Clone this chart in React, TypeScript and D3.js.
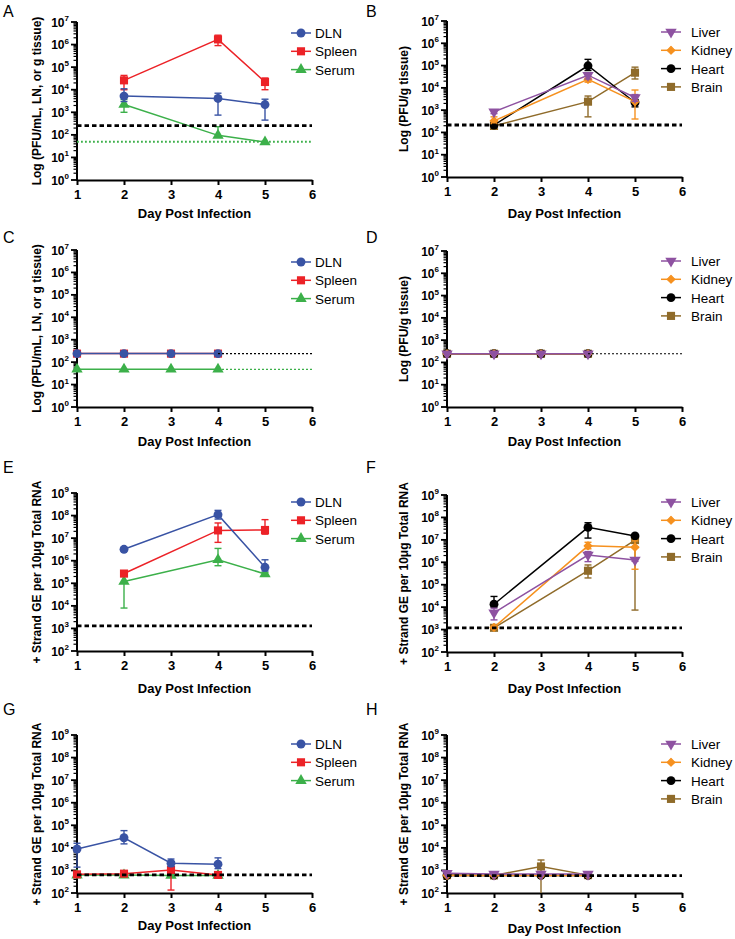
import { useEffect, useRef } from 'react';
import * as d3 from 'd3';

const W = 735, H = 939;
const FONT = '"Liberation Sans", Arial, Helvetica, sans-serif';

// each point: [day, mean, error low, error high]
type Pt = [number, number, number, number];

const DAYS = [1, 2, 3, 4, 5, 6];

// A: infectious virus, lymphoid tissues / serum (PFU)
const A_DLN: Pt[] = [[2, 5200, 3000, 11000], [4, 4100, 750, 7000], [5, 2200, 450, 3800]];
const A_SPLEEN: Pt[] = [[2, 26000, 10000, 43000], [4, 1.7e6, 9e5, 2.6e6], [5, 22000, 10000, 33000]];
const A_SERUM: Pt[] = [[2, 2200, 1000, 3700], [4, 95, 95, 230], [5, 48, 48, 48]];
const A_LOD = 255;
const A_SERUM_LOD = 50;

// B: infectious virus, organs
const B_LIVER: Pt[] = [[2, 850, 700, 1000], [4, 37000, 25000, 45000], [5, 3700, 2500, 5000]];
const B_KIDNEY: Pt[] = [[2, 330, 250, 500], [4, 24000, 18000, 32000], [5, 2400, 400, 8000]];
const B_HEART: Pt[] = [[2, 215, 215, 215], [4, 98000, 60000, 190000], [5, 2200, 1400, 3000]];
const B_BRAIN: Pt[] = [[2, 195, 195, 195], [4, 2400, 500, 4300], [5, 48000, 25000, 85000]];
const B_LOD = 215;

// C / D: all below detection
const C_DLN: Pt[] = [[1, 240, 240, 240], [2, 240, 240, 240], [3, 240, 240, 240], [4, 240, 240, 240]];
const C_SPLEEN: Pt[] = [[1, 240, 240, 240], [2, 240, 240, 240], [3, 240, 240, 240], [4, 240, 240, 240]];
const C_SERUM: Pt[] = [[1, 48, 48, 48], [2, 48, 48, 48], [3, 48, 48, 48], [4, 48, 48, 48]];
const C_LOD = 240;
const C_SERUM_LOD = 48;

const D_LIVER: Pt[] = [[1, 245, 245, 245], [2, 245, 245, 245], [3, 245, 245, 245], [4, 245, 245, 245]];
const D_KIDNEY: Pt[] = [[1, 245, 245, 245], [2, 245, 245, 245], [3, 245, 245, 245], [4, 245, 245, 245]];
const D_HEART: Pt[] = [[1, 245, 245, 245], [2, 245, 245, 245], [3, 245, 245, 245], [4, 245, 245, 245]];
const D_BRAIN: Pt[] = [[1, 245, 245, 245], [2, 245, 245, 245], [3, 245, 245, 245], [4, 245, 245, 245]];
const D_LOD = 245;

// E / F: + strand genome equivalents
const E_DLN: Pt[] = [[2, 3.2e6, 2.7e6, 3.8e6], [4, 1.1e8, 7e7, 1.7e8], [5, 5.1e5, 3.5e5, 1.1e6]];
const E_SPLEEN: Pt[] = [[2, 2.7e5, 2.3e5, 3.2e5], [4, 2.2e7, 6.5e6, 4.7e7], [5, 2.3e7, 1.5e7, 6.6e7]];
const E_SERUM: Pt[] = [[2, 1.2e5, 8e3, 2e5], [4, 1.1e6, 6e5, 3.5e6], [5, 2.6e5, 2.2e5, 3e5]];
const E_LOD = 1.3e3;

const F_LIVER: Pt[] = [[2, 5.6e3, 2.7e3, 9e3], [4, 2.1e6, 1.07e6, 3e6], [5, 1.26e6, 1.1e6, 1.4e6]];
const F_KIDNEY: Pt[] = [[2, 1.25e3, 1.1e3, 1.4e3], [4, 5.4e6, 4e6, 7.8e6], [5, 4.7e6, 4.9e5, 9e6]];
const F_HEART: Pt[] = [[2, 1.35e4, 1e4, 3e4], [4, 3.6e7, 1.2e7, 5.8e7], [5, 1.5e7, 1.3e7, 1.7e7]];
const F_BRAIN: Pt[] = [[2, 1.2e3, 1.1e3, 1.3e3], [4, 4.2e5, 2e5, 7.6e5], [5, 9.8e6, 7.4e3, 1.2e7]];
const F_LOD = 1.2e3;

// G / H
const G_DLN: Pt[] = [[1, 8.9e3, 1.4e3, 1.6e4], [2, 2.8e4, 1.5e4, 5.8e4], [3, 2.1e3, 1.5e3, 3.2e3], [4, 1.9e3, 1.2e3, 3.6e3]];
const G_SPLEEN: Pt[] = [[1, 670, 600, 750], [2, 720, 650, 800], [3, 1.05e3, 135, 1.5e3], [4, 630, 600, 680]];
const G_SERUM: Pt[] = [[1, 620, 620, 620], [2, 620, 620, 620], [3, 600, 600, 600], [4, 600, 600, 600]];
const G_LOD = 630;

const H_LIVER: Pt[] = [[1, 750, 700, 800], [2, 690, 650, 720], [3, 690, 650, 720], [4, 690, 650, 720]];
const H_KIDNEY: Pt[] = [[1, 600, 600, 600], [2, 600, 600, 600], [3, 600, 600, 600], [4, 600, 600, 600]];
const H_HEART: Pt[] = [[1, 600, 600, 600], [2, 600, 600, 600], [3, 600, 600, 600], [4, 600, 600, 600]];
const H_BRAIN: Pt[] = [[1, 620, 600, 650], [2, 600, 600, 600], [3, 1.5e3, 90, 2.9e3], [4, 620, 600, 650]];
const H_LOD = 590;

const C_BLUE = '#3953a4', C_RED = '#ec2227', C_GREEN = '#3cb04a';
const C_PURPLE = '#8e52a1', C_ORANGE = '#f6911f', C_BLACK = '#000000', C_BROWN = '#8f6b2a';

type Series = { name: string; color: string; shape: string; data: Pt[] };
type RefLine = { value: number; from: number; to: number; kind: 'dash' | 'dot' | 'fine'; color: string };
type Panel = {
  letter: string; col: number; top: number; bottom: number; yMin: number; yMax: number;
  letterY: number; legendTop: number; xTitleDy: number; yTitle: string;
  series: Series[]; refs: RefLine[];
};

const lymph = (dln: Pt[], spleen: Pt[], serum: Pt[]): Series[] => [
  { name: 'DLN', color: C_BLUE, shape: 'circle', data: dln },
  { name: 'Spleen', color: C_RED, shape: 'square', data: spleen },
  { name: 'Serum', color: C_GREEN, shape: 'triangle', data: serum },
];
const organs = (liver: Pt[], kidney: Pt[], heart: Pt[], brain: Pt[]): Series[] => [
  { name: 'Liver', color: C_PURPLE, shape: 'down', data: liver },
  { name: 'Kidney', color: C_ORANGE, shape: 'diamond', data: kidney },
  { name: 'Heart', color: C_BLACK, shape: 'circle', data: heart },
  { name: 'Brain', color: C_BROWN, shape: 'square', data: brain },
];

const T_PFU1 = 'Log (PFU/mL, LN, or g tissue)';
const T_PFU2 = 'Log (PFU/g tissue)';
const T_GE = '+ Strand GE per 10\u03bcg Total RNA';

const PANELS: Panel[] = [
  { letter: 'A', col: 0, top: 22, bottom: 180, yMin: 1, yMax: 1e7, letterY: 17, legendTop: 33, xTitleDy: 38, yTitle: T_PFU1,
    series: lymph(A_DLN, A_SPLEEN, A_SERUM),
    refs: [{ value: A_LOD, from: 1, to: 6, kind: 'dash', color: '#000' }, { value: A_SERUM_LOD, from: 1, to: 6, kind: 'dot', color: C_GREEN }] },
  { letter: 'B', col: 1, top: 21, bottom: 177, yMin: 1, yMax: 1e7, letterY: 17, legendTop: 32, xTitleDy: 41, yTitle: T_PFU2,
    series: organs(B_LIVER, B_KIDNEY, B_HEART, B_BRAIN),
    refs: [{ value: B_LOD, from: 1, to: 6, kind: 'dash', color: '#000' }] },
  { letter: 'C', col: 0, top: 250, bottom: 407, yMin: 1, yMax: 1e7, letterY: 243, legendTop: 262, xTitleDy: 39, yTitle: T_PFU1,
    series: lymph(C_DLN, C_SPLEEN, C_SERUM),
    refs: [{ value: C_LOD, from: 4, to: 6, kind: 'fine', color: '#000' }, { value: C_SERUM_LOD, from: 4, to: 6, kind: 'fine', color: C_GREEN }] },
  { letter: 'D', col: 1, top: 251, bottom: 407, yMin: 1, yMax: 1e7, letterY: 243, legendTop: 261, xTitleDy: 39, yTitle: T_PFU2,
    series: organs(D_LIVER, D_KIDNEY, D_HEART, D_BRAIN),
    refs: [{ value: D_LOD, from: 4, to: 6, kind: 'fine', color: '#000' }] },
  { letter: 'E', col: 0, top: 493, bottom: 651, yMin: 1e2, yMax: 1e9, letterY: 473, legendTop: 502, xTitleDy: 42, yTitle: T_GE,
    series: lymph(E_DLN, E_SPLEEN, E_SERUM),
    refs: [{ value: E_LOD, from: 1, to: 6, kind: 'dash', color: '#000' }] },
  { letter: 'F', col: 1, top: 495, bottom: 652, yMin: 1e2, yMax: 1e9, letterY: 473, legendTop: 502, xTitleDy: 41, yTitle: T_GE,
    series: organs(F_LIVER, F_KIDNEY, F_HEART, F_BRAIN),
    refs: [{ value: F_LOD, from: 1, to: 6, kind: 'dash', color: '#000' }] },
  { letter: 'G', col: 0, top: 735, bottom: 893, yMin: 1e2, yMax: 1e9, letterY: 715, legendTop: 744, xTitleDy: 37, yTitle: T_GE,
    series: lymph(G_DLN, G_SPLEEN, G_SERUM),
    refs: [{ value: G_LOD, from: 1, to: 6, kind: 'dash', color: '#000' }] },
  { letter: 'H', col: 1, top: 735, bottom: 893, yMin: 1e2, yMax: 1e9, letterY: 715, legendTop: 744, xTitleDy: 40, yTitle: T_GE,
    series: organs(H_LIVER, H_KIDNEY, H_HEART, H_BRAIN),
    refs: [{ value: H_LOD, from: 1, to: 6, kind: 'dash', color: '#000' }] },
];

const COLS = [[77, 312], [447, 682]];
const LETTER_X = [3, 366];
const YTITLE_DX = [-32, -35];

function symbolPath(shape: string) {
  if (shape === 'circle') return d3.symbol(d3.symbolCircle, 62)();
  if (shape === 'square') return d3.symbol(d3.symbolSquare, 66)();
  // regular diamond = square turned 45deg
  if (shape === 'diamond') return d3.symbol(d3.symbolSquare, 30)();
  return d3.symbol(d3.symbolTriangle, 56)();
}

function drawMarker(g: any, shape: string, cx: number, cy: number, color: string) {
  const rot = shape === 'down' ? ' rotate(180)' : shape === 'diamond' ? ' rotate(45)' : '';
  g.append('path')
    .attr('d', symbolPath(shape))
    .attr('transform', `translate(${cx},${cy})${rot}`)
    .attr('fill', color)
    .attr('stroke', shape === 'diamond' ? color : 'none')
    .attr('stroke-width', 1.2)
    .attr('stroke-linejoin', 'round');
}

function drawPanel(svg: any, p: Panel) {
  const [x0, x1] = COLS[p.col];
  const x = d3.scaleLinear().domain([1, 6]).range([x0, x1]);
  const y = d3.scaleLog().domain([p.yMin, p.yMax]).range([p.bottom, p.top]).clamp(true);
  const g = svg.append('g');

  g.append('text').attr('x', LETTER_X[p.col]).attr('y', p.letterY)
    .style('font-family', FONT).style('font-size', '16px').text(p.letter);

  // y axis, log with minor ticks
  const ax = x(1);
  const lo = Math.round(Math.log10(p.yMin)), hi = Math.round(Math.log10(p.yMax));
  for (let k = lo; k <= hi; k++) {
    const yy = y(Math.pow(10, k));
    g.append('line').attr('x1', ax - 6).attr('x2', ax).attr('y1', yy).attr('y2', yy)
      .attr('stroke', '#000').attr('stroke-width', 1.8);
    const t = g.append('text').attr('x', ax - 8).attr('y', yy + 4.5)
      .attr('text-anchor', 'end')
      .style('font-family', FONT).style('font-size', '12px').style('font-weight', 'bold');
    t.append('tspan').text('10');
    t.append('tspan').attr('dy', -5.5).style('font-size', '8px').text(String(k));
    if (k < hi) {
      for (let m = 2; m <= 9; m++) {
        const ym = y(m * Math.pow(10, k));
        g.append('line').attr('x1', ax - 3.5).attr('x2', ax).attr('y1', ym).attr('y2', ym)
          .attr('stroke', '#000').attr('stroke-width', 1.2);
      }
    }
  }
  g.append('line').attr('x1', ax).attr('x2', ax).attr('y1', p.top).attr('y2', p.bottom + 1)
    .attr('stroke', '#000').attr('stroke-width', 2);

  // x axis
  g.append('g').attr('transform', `translate(0,${p.bottom})`)
    .call(d3.axisBottom(x).tickValues(DAYS).tickSize(5).tickSizeOuter(0).tickPadding(5).tickFormat(d3.format('d')))
    .call((a: any) => a.select('.domain').attr('stroke-width', 2))
    .call((a: any) => a.selectAll('.tick line').attr('stroke-width', 2))
    .call((a: any) => a.selectAll('text').style('font-family', FONT).style('font-size', '13px').style('font-weight', 'bold').attr('fill', '#000'));

  g.append('text').attr('x', (x0 + x1) / 2).attr('y', p.bottom + p.xTitleDy)
    .attr('text-anchor', 'middle')
    .style('font-family', FONT).style('font-size', '13px').style('font-weight', 'bold')
    .text('Day Post Infection');

  const cy = (p.top + p.bottom) / 2;
  const tx = ax + YTITLE_DX[p.col] - 4;
  g.append('text').attr('transform', `translate(${tx},${cy}) rotate(-90)`)
    .attr('text-anchor', 'middle')
    .style('font-family', FONT).style('font-size', '12px').style('font-weight', 'bold')
    .text(p.yTitle);

  // series: first listed drawn on top
  const line = d3.line<Pt>().x(d => x(d[0])).y(d => y(d[1]));
  [...p.series].reverse().forEach(s => {
    const sg = g.append('g');
    for (const d of s.data) {
      const px = x(d[0]);
      const yl = y(d[2]), yh = y(d[3]), ym = y(d[1]);
      if (yl - yh > 1) {
        sg.append('line').attr('x1', px).attr('x2', px).attr('y1', yh).attr('y2', yl)
          .attr('stroke', s.color).attr('stroke-width', 1.4);
        if (ym - yh > 1) sg.append('line').attr('x1', px - 3.5).attr('x2', px + 3.5).attr('y1', yh).attr('y2', yh)
          .attr('stroke', s.color).attr('stroke-width', 1.4);
        if (yl - ym > 1 && d[2] > p.yMin) sg.append('line').attr('x1', px - 3.5).attr('x2', px + 3.5).attr('y1', yl).attr('y2', yl)
          .attr('stroke', s.color).attr('stroke-width', 1.4);
      }
    }
    sg.append('path').datum(s.data).attr('d', line)
      .attr('fill', 'none').attr('stroke', s.color).attr('stroke-width', 1.5);
    for (const d of s.data) drawMarker(sg, s.shape, x(d[0]), y(d[1]), s.color);
  });

  // limit-of-detection lines
  for (const r of p.refs) {
    const ry = y(r.value);
    const l = g.append('line').attr('x1', x(r.from)).attr('x2', x(r.to)).attr('y1', ry).attr('y2', ry)
      .attr('stroke', r.color);
    if (r.kind === 'dash') l.attr('stroke-width', 2.8).attr('stroke-dasharray', '4.5,3');
    else if (r.kind === 'dot') l.attr('stroke-width', 2).attr('stroke-dasharray', '1.8,2.2');
    else l.attr('stroke-width', 1.2).attr('stroke-dasharray', '2,2');
  }

  // legend
  const lx0 = x1 - 21, lx1 = x1 - 1, tX = p.col === 0 ? x1 + 3 : x1 + 9;
  p.series.forEach((s, i) => {
    const ly = p.legendTop + i * 18.3;
    g.append('line').attr('x1', lx0).attr('x2', lx1).attr('y1', ly).attr('y2', ly)
      .attr('stroke', s.color).attr('stroke-width', 1.5);
    drawMarker(g, s.shape, (lx0 + lx1) / 2, ly, s.color);
    g.append('text').attr('x', tX).attr('y', ly + 5)
      .style('font-family', FONT).style('font-size', '13.5px')
      .text(s.name);
  });
}

export default function App() {
  const svgRef = useRef<SVGSVGElement>(null);

  useEffect(() => {
    if (!svgRef.current) return;
    const svg = d3.select(svgRef.current);
    svg.selectAll('*').remove();
    PANELS.forEach(p => drawPanel(svg, p));
  }, []);

  return (
    <svg ref={svgRef} width={W} height={H}
      style={{ position: 'absolute', left: 0, top: 0, background: '#fff', display: 'block' }} />
  );
}
